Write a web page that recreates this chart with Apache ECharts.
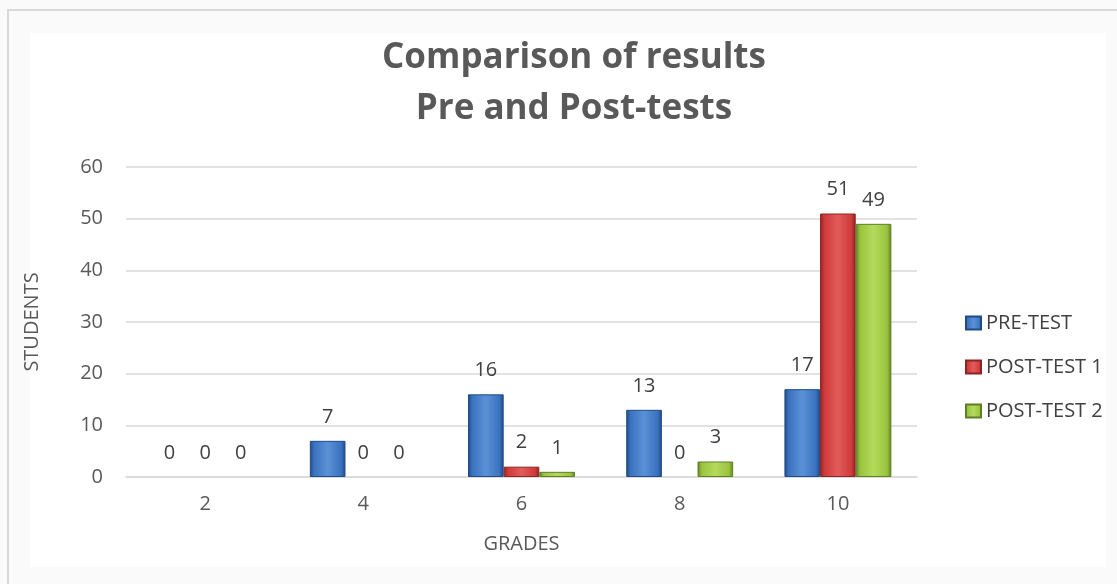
<!DOCTYPE html>
<html>
<head>
<meta charset="utf-8">
<script src="https://cdn.jsdelivr.net/npm/echarts@6/dist/echarts.min.js"></script>
<style>
  html, body { margin: 0; padding: 0; background: #fafafa; }
  #frame { position: absolute; left: 7px; top: 9px; width: 1110px; height: 575px; border-left: 2px solid #d9d9d9; border-top: 2px solid #d9d9d9; box-sizing: border-box; background: #fafafa; }
  #chart { position: absolute; left: 0; top: 0; width: 1117px; height: 584px; }
</style>
</head>
<body>
<div id="frame"></div>
<div id="chart"></div>
<script>
var grades = ['2', '4', '6', '8', '10'];
var preTest = [0, 7, 16, 13, 17];
var postTest1 = [0, 0, 2, 0, 51];
var postTest2 = [0, 0, 1, 3, 49];
var yTicks = [0, 10, 20, 30, 40, 50, 60];

var FONT = '"Open Sans", sans-serif';

function bevel(dark, mid, light) {
    return new echarts.graphic.LinearGradient(0, 0, 1, 0, [
        { offset: 0, color: dark },
        { offset: 0.12, color: mid },
        { offset: 0.5, color: light },
        { offset: 0.88, color: mid },
        { offset: 1, color: dark }
    ]);
}

// zero bars get no border so nothing is drawn for them
function withBorder(values) {
    return values.map(function (v) {
        return v === 0 ? { value: v, itemStyle: { borderWidth: 0 } } : v;
    });
}

function makeSeries(name, data, dark, mid, light) {
    return {
        name: name,
        type: 'bar',
        data: withBorder(data),
        barGap: '0%',
        barCategoryGap: '32.4%',
        itemStyle: {
            color: bevel(dark, mid, light),
            borderColor: dark,
            borderWidth: 1
        },
        label: {
            show: true,
            position: 'top',
            distance: 14,
            color: '#404040',
            fontSize: 20,
            fontFamily: FONT
        }
    };
}

var myChart = echarts.init(document.getElementById('chart'));
myChart.setOption({
    animation: false,
    graphic: [{
        type: 'rect',
        shape: { x: 30, y: 33, width: 1076, height: 534 },
        style: { fill: '#ffffff' },
        z: -10
    }],
    title: {
        text: 'Comparison of results\nPre and Post-tests',
        left: 569,
        top: 28,
        textAlign: 'center',
        textStyle: {
            color: '#595959',
            fontSize: 35,
            fontWeight: 'bold',
            fontFamily: FONT,
            lineHeight: 51
        }
    },
    color: ['#3b72bf', '#cf3a3a', '#9ac43d'],
    legend: {
        orient: 'vertical',
        left: 960,
        top: 308,
        itemWidth: 15,
        itemHeight: 13,
        itemGap: 24,
        icon: 'rect',
        textStyle: { color: '#404040', fontSize: 20, fontFamily: FONT },
        data: ['PRE-TEST', 'POST-TEST 1', 'POST-TEST 2']
    },
    grid: { left: 126, right: 200, top: 167, bottom: 107, containLabel: false },
    xAxis: {
        type: 'category',
        data: grades,
        name: 'GRADES',
        nameLocation: 'middle',
        nameGap: 57,
        nameTextStyle: { color: '#595959', fontSize: 20, fontFamily: FONT },
        axisLine: { lineStyle: { color: '#d9d9d9', width: 1.5 } },
        axisTick: { show: false },
        axisLabel: { color: '#595959', fontSize: 20, fontFamily: FONT, margin: 17 }
    },
    yAxis: {
        type: 'value',
        min: yTicks[0],
        max: yTicks[yTicks.length - 1],
        interval: 10,
        name: 'STUDENTS',
        nameLocation: 'middle',
        nameGap: 84,
        nameTextStyle: { color: '#595959', fontSize: 20, fontFamily: FONT },
        axisLine: { show: false },
        axisTick: { show: false },
        axisLabel: { color: '#595959', fontSize: 20, fontFamily: FONT, margin: 23 },
        splitLine: { lineStyle: { color: '#d9d9d9', width: 1.5 } }
    },
    series: [
        makeSeries('PRE-TEST', preTest, '#1f4a86', '#3b72bf', '#5a91d6'),
        makeSeries('POST-TEST 1', postTest1, '#8c2424', '#cf3a3a', '#e25b5b'),
        makeSeries('POST-TEST 2', postTest2, '#5f7e28', '#9ac43d', '#b4da5c')
    ]
});
</script>
</body>
</html>
